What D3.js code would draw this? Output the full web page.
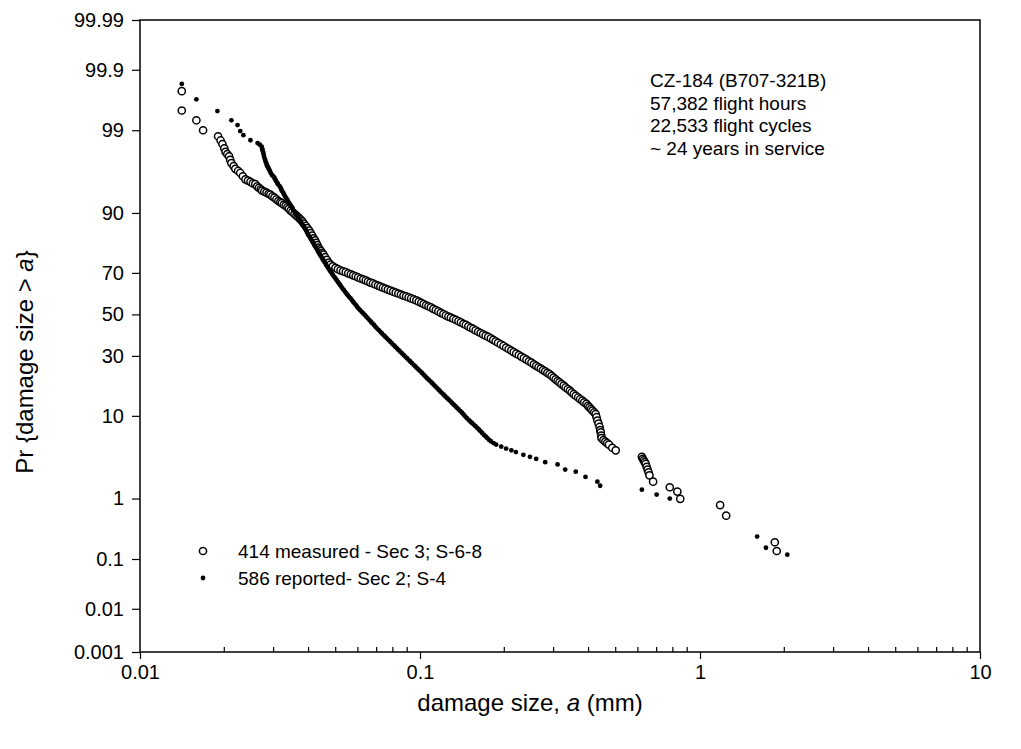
<!DOCTYPE html>
<html>
<head>
<meta charset="utf-8">
<script src="https://cdn.jsdelivr.net/npm/d3@7"></script>
<style>
  body { margin: 0; background: #fff; }
  svg { font-family: "Liberation Sans", Arial, sans-serif; }
</style>
</head>
<body>
<div id="chart"></div>
<script>
const width = 1021;
const height = 749;

// tick values
const xTicks = [0.01, 0.1, 1, 10];
const yTicks = [0.001, 0.01, 0.1, 1, 10, 30, 50, 70, 90, 99, 99.9, 99.99];

// 414 measured - Sec 3 (open circles): [size mm, exceedance %]
const measuredPoints = [
  [0.0141, 99.76], [0.0141, 99.5], [0.0159, 99.29], [0.0168, 99.0], [0.0190, 98.78], [0.0194, 98.6],
  [0.0197, 98.43], [0.0200, 98.2], [0.0202, 98.0], [0.0205, 97.85], [0.0208, 97.7], [0.0210, 97.45],
  [0.0212, 97.2], [0.0216, 96.95], [0.0219, 96.7], [0.0224, 96.5], [0.0228, 96.3], [0.0233, 95.95],
  [0.0238, 95.6], [0.0243, 95.45], [0.0248, 95.3], [0.0253, 95.1], [0.0258, 95.0], [0.0262, 94.7],
  [0.0266, 94.5], [0.0270, 94.3], [0.0273, 94.1], [0.0278, 93.95], [0.0283, 93.8], [0.0288, 93.6],
  [0.0292, 93.5], [0.0297, 93.2], [0.0302, 93.0], [0.0307, 92.7], [0.0312, 92.4], [0.0317, 92.2],
  [0.0321, 92.0], [0.0326, 91.7], [0.0331, 91.5], [0.0336, 91.2], [0.0340, 90.9], [0.0345, 90.5],
  [0.0350, 90.2], [0.0356, 89.8], [0.0362, 89.4], [0.0368, 89.0], [0.0374, 88.5], [0.0380, 88.0],
  [0.0385, 87.4], [0.0391, 86.8], [0.0396, 86.2], [0.0402, 85.5], [0.0407, 84.8], [0.0412, 84.0],
  [0.0417, 83.2], [0.0422, 82.5], [0.0426, 81.7], [0.0430, 80.9], [0.0434, 80.1], [0.0439, 79.4],
  [0.0443, 78.8], [0.0448, 78.1], [0.0452, 77.5], [0.0458, 76.5], [0.0465, 75.5], [0.0472, 74.4],
  [0.0479, 73.5], [0.0488, 72.8], [0.0499, 72.2], [0.0509, 71.6], [0.0520, 71.1], [0.0531, 70.7],
  [0.0543, 70.3], [0.0554, 69.8], [0.0566, 69.4], [0.0577, 68.9], [0.0589, 68.5], [0.0601, 68.0],
  [0.0614, 67.5], [0.0627, 67.1], [0.0640, 66.6], [0.0652, 66.1], [0.0665, 65.6], [0.0679, 65.2],
  [0.0693, 64.7], [0.0708, 64.2], [0.0722, 63.7], [0.0737, 63.2], [0.0752, 62.8], [0.0768, 62.3],
  [0.0785, 61.8], [0.0802, 61.3], [0.0819, 60.8], [0.0837, 60.4], [0.0855, 59.9], [0.0873, 59.4],
  [0.0892, 59.0], [0.0911, 58.5], [0.0930, 58.0], [0.0950, 57.5], [0.0970, 57.0], [0.0990, 56.4],
  [0.1010, 55.8], [0.1030, 55.2], [0.1051, 54.6], [0.1072, 54.1], [0.1093, 53.5], [0.1116, 52.8],
  [0.1139, 52.2], [0.1163, 51.5], [0.1187, 50.8], [0.1212, 50.2], [0.1237, 49.5], [0.1263, 48.9],
  [0.1289, 48.4], [0.1316, 47.8], [0.1344, 47.2], [0.1372, 46.6], [0.1400, 46.0], [0.1429, 45.3],
  [0.1458, 44.7], [0.1488, 44.0], [0.1518, 43.3], [0.1549, 42.7], [0.1580, 42.0], [0.1613, 41.3],
  [0.1646, 40.7], [0.1680, 40.0], [0.1716, 39.4], [0.1752, 38.8], [0.1790, 38.1], [0.1826, 37.4],
  [0.1863, 36.7], [0.1900, 36.0], [0.1943, 35.3], [0.1986, 34.5], [0.2030, 33.8], [0.2073, 33.1],
  [0.2116, 32.4], [0.2160, 31.7], [0.2206, 31.0], [0.2253, 30.4], [0.2300, 29.7], [0.2350, 29.0],
  [0.2400, 28.4], [0.2450, 27.7], [0.2500, 27.1], [0.2550, 26.4], [0.2600, 25.8], [0.2650, 25.2],
  [0.2700, 24.7], [0.2750, 24.1], [0.2800, 23.6], [0.2850, 23.0], [0.2900, 22.5], [0.2950, 21.9],
  [0.3000, 21.2], [0.3050, 20.6], [0.3100, 20.0], [0.3150, 19.5], [0.3200, 18.9], [0.3260, 18.4],
  [0.3310, 17.8], [0.3370, 17.3], [0.3430, 16.8], [0.3480, 16.2], [0.3540, 15.7], [0.3600, 15.2],
  [0.3670, 14.7], [0.3730, 14.2], [0.3800, 13.8], [0.3860, 13.3], [0.3930, 12.9], [0.3980, 12.4],
  [0.4030, 12.0], [0.4080, 11.6], [0.4130, 11.2], [0.4190, 10.8], [0.4240, 10.4], [0.4270, 9.7],
  [0.4300, 9.0], [0.4340, 8.4], [0.4380, 7.75], [0.4400, 7.2], [0.4420, 6.8], [0.4440, 6.3],
  [0.4450, 5.9], [0.4520, 5.6], [0.4590, 5.4], [0.4660, 5.2], [0.4730, 5.0], [0.4860, 4.6],
  [0.5000, 4.3], [0.6200, 3.6], [0.6250, 3.4], [0.6300, 3.25], [0.6350, 3.1], [0.6400, 2.95],
  [0.6450, 2.7], [0.6500, 2.5], [0.6550, 2.3], [0.6600, 2.1], [0.6800, 1.73], [0.7800, 1.45],
  [0.8300, 1.26], [0.8500, 0.99], [1.18, 0.8], [1.24, 0.55], [1.85, 0.2], [1.88, 0.14]
];

// 586 reported - Sec 2 (small dots): [size mm, exceedance %]
const reportedPoints = [
  [0.0141, 99.82], [0.0159, 99.67], [0.0189, 99.49], [0.0212, 99.29], [0.0223, 99.16], [0.0228, 98.97],
  [0.0234, 98.82], [0.0248, 98.61], [0.0263, 98.48], [0.0268, 98.4], [0.0272, 98.3], [0.0273, 98.2],
  [0.0274, 98.1], [0.0275, 98.0], [0.0276, 97.9], [0.0277, 97.75], [0.0278, 97.6], [0.0280, 97.45],
  [0.0281, 97.3], [0.0283, 97.15], [0.0284, 97.0], [0.0286, 96.9], [0.0287, 96.8], [0.0289, 96.65],
  [0.0291, 96.5], [0.0293, 96.3], [0.0296, 96.1], [0.0299, 95.95], [0.0302, 95.8], [0.0304, 95.6],
  [0.0306, 95.4], [0.0309, 95.2], [0.0311, 95.0], [0.0315, 94.75], [0.0318, 94.5], [0.0320, 94.25],
  [0.0322, 94.0], [0.0325, 93.75], [0.0327, 93.5], [0.0330, 93.2], [0.0333, 92.9], [0.0336, 92.6],
  [0.0338, 92.3], [0.0341, 92.0], [0.0344, 91.7], [0.0347, 91.4], [0.0350, 91.1], [0.0352, 90.75],
  [0.0355, 90.4], [0.0358, 90.05], [0.0361, 89.7], [0.0365, 89.3], [0.0368, 88.9], [0.0371, 88.5],
  [0.0374, 88.1], [0.0377, 87.65], [0.0380, 87.2], [0.0384, 86.75], [0.0387, 86.3], [0.0391, 85.75],
  [0.0394, 85.2], [0.0397, 84.65], [0.0400, 84.1], [0.0404, 83.55], [0.0407, 83.0], [0.0411, 82.45],
  [0.0414, 81.9], [0.0417, 81.35], [0.0420, 80.8], [0.0424, 80.25], [0.0427, 79.7], [0.0431, 79.05],
  [0.0434, 78.4], [0.0438, 77.8], [0.0441, 77.2], [0.0445, 76.55], [0.0448, 75.9], [0.0452, 75.25],
  [0.0456, 74.6], [0.0460, 73.95], [0.0463, 73.3], [0.0467, 72.6], [0.0471, 71.9], [0.0476, 71.15],
  [0.0480, 70.4], [0.0485, 69.7], [0.0489, 69.0], [0.0494, 68.25], [0.0499, 67.5], [0.0504, 66.7],
  [0.0509, 65.9], [0.0514, 65.15], [0.0519, 64.4], [0.0524, 63.6], [0.0529, 62.8], [0.0535, 62.0],
  [0.0540, 61.2], [0.0546, 60.4], [0.0552, 59.6], [0.0558, 58.8], [0.0565, 58.0], [0.0571, 57.2],
  [0.0577, 56.4], [0.0583, 55.55], [0.0590, 54.7], [0.0596, 53.85], [0.0603, 53.0], [0.0611, 52.15],
  [0.0619, 51.3], [0.0627, 50.5], [0.0635, 49.7], [0.0643, 48.85], [0.0651, 48.0], [0.0660, 47.15],
  [0.0668, 46.3], [0.0676, 45.5], [0.0685, 44.7], [0.0693, 43.85], [0.0702, 43.0], [0.0712, 42.15],
  [0.0722, 41.3], [0.0731, 40.5], [0.0741, 39.7], [0.0751, 38.9], [0.0761, 38.1], [0.0772, 37.3],
  [0.0783, 36.5], [0.0794, 35.7], [0.0805, 34.9], [0.0816, 34.15], [0.0827, 33.4], [0.0838, 32.65],
  [0.0850, 31.9], [0.0862, 31.15], [0.0874, 30.4], [0.0886, 29.7], [0.0898, 29.0], [0.0910, 28.3],
  [0.0923, 27.6], [0.0936, 26.9], [0.0949, 26.2], [0.0962, 25.55], [0.0975, 24.9], [0.0989, 24.25],
  [0.1003, 23.6], [0.1017, 22.95], [0.1031, 22.3], [0.1045, 21.65], [0.1059, 21.0], [0.1074, 20.45],
  [0.1089, 19.9], [0.1104, 19.3], [0.1119, 18.7], [0.1135, 18.15], [0.1150, 17.6], [0.1166, 17.05],
  [0.1182, 16.5], [0.1198, 16.0], [0.1215, 15.5], [0.1232, 15.0], [0.1250, 14.5], [0.1267, 14.05],
  [0.1285, 13.6], [0.1302, 13.15], [0.1320, 12.7], [0.1338, 12.3], [0.1355, 11.9], [0.1374, 11.5],
  [0.1393, 11.1], [0.1412, 10.7], [0.1431, 10.3], [0.1450, 9.9], [0.1470, 9.5], [0.1491, 9.15],
  [0.1512, 8.8], [0.1533, 8.5], [0.1555, 8.2], [0.1577, 7.9], [0.1600, 7.6], [0.1622, 7.3],
  [0.1645, 7.0], [0.1668, 6.7], [0.1692, 6.4], [0.1716, 6.15], [0.1740, 5.9], [0.1765, 5.65],
  [0.1790, 5.45], [0.1830, 5.2], [0.1870, 5.0], [0.1950, 4.75], [0.2030, 4.5], [0.2120, 4.3],
  [0.2200, 4.1], [0.2340, 3.8], [0.2470, 3.6], [0.2600, 3.4], [0.2800, 3.1], [0.3100, 2.9],
  [0.3300, 2.5], [0.3600, 2.35], [0.3900, 2.0], [0.4300, 1.73], [0.4400, 1.52], [0.6200, 1.34],
  [0.7000, 1.14], [0.7800, 1.0], [1.60, 0.25], [1.72, 0.16], [2.05, 0.12]
];

const legendLabels = ["414 measured - Sec 3; S-6-8", "586 reported- Sec 2; S-4"];
const noteLines = ["CZ-184 (B707-321B)", "57,382 flight hours", "22,533 flight cycles", "~ 24 years in service"];

const plot = { left: 140, right: 980, top: 20, bottom: 652 };

// inverse normal CDF (Acklam) for the probability axis
function probit(p)
{
    const a = [-3.969683028665376e+01, 2.209460984245205e+02, -2.759285104469687e+02, 1.383577518672690e+02, -3.066479806614716e+01, 2.506628277459239e+00];
    const b = [-5.447609879822406e+01, 1.615858368580409e+02, -1.556989798598866e+02, 6.680131188771972e+01, -1.328068155288572e+01];
    const c = [-7.784894002430293e-03, -3.223964580411365e-01, -2.400758277161838e+00, -2.549732539343734e+00, 4.374664141464968e+00, 2.938163982698783e+00];
    const d = [7.784695709041462e-03, 3.224671290700398e-01, 2.445134137142996e+00, 3.754408661907416e+00];
    const pl = 0.02425;
    let q, r;
    if (p < pl) {
        q = Math.sqrt(-2 * Math.log(p));
        return (((((c[0]*q+c[1])*q+c[2])*q+c[3])*q+c[4])*q+c[5]) / ((((d[0]*q+d[1])*q+d[2])*q+d[3])*q+1);
    }
    if (p <= 1 - pl) {
        q = p - 0.5; r = q * q;
        return (((((a[0]*r+a[1])*r+a[2])*r+a[3])*r+a[4])*r+a[5])*q / (((((b[0]*r+b[1])*r+b[2])*r+b[3])*r+b[4])*r+1);
    }
    q = Math.sqrt(-2 * Math.log(1 - p));
    return -(((((c[0]*q+c[1])*q+c[2])*q+c[3])*q+c[4])*q+c[5]) / ((((d[0]*q+d[1])*q+d[2])*q+d[3])*q+1);
}

// probability scale built on a linear scale of the normal quantile
function probScale(domain, range)
{
    const lin = d3.scaleLinear()
        .domain(domain.map(p => probit(p / 100)))
        .range(range);
    const s = p => lin(probit(p / 100));
    s.domain = () => domain.slice();
    s.range = () => lin.range();
    s.copy = () => probScale(domain, range);
    return s;
}

const x = d3.scaleLog().domain([0.01, 10]).range([plot.left, plot.right]);
const y = probScale([0.001, 99.99], [plot.bottom, plot.top]);

const svg = d3.select("#chart").append("svg")
    .attr("width", width)
    .attr("height", height)
    .style("background", "#fff");

// frame
svg.append("rect")
    .attr("x", plot.left)
    .attr("y", plot.top)
    .attr("width", plot.right - plot.left)
    .attr("height", plot.bottom - plot.top)
    .attr("fill", "none")
    .attr("stroke", "#000")
    .attr("stroke-width", 1.5);

// minor x ticks (inward)
const minor = x.ticks().filter(v => xTicks.indexOf(v) < 0);
svg.append("g")
    .selectAll("line")
    .data(minor)
    .join("line")
    .attr("x1", d => x(d)).attr("x2", d => x(d))
    .attr("y1", plot.bottom).attr("y2", plot.bottom - 5)
    .attr("stroke", "#000")
    .attr("stroke-width", 1.2);

const xAxis = svg.append("g")
    .attr("transform", `translate(0,${plot.bottom})`)
    .call(d3.axisBottom(x).tickValues(xTicks).tickFormat(d => String(d)).tickSize(7).tickSizeOuter(0).tickPadding(6));
xAxis.select(".domain").remove();
xAxis.selectAll("line").attr("stroke-width", 1.2);
xAxis.selectAll("text").style("font-size", "20px").attr("fill", "#000");

const yAxis = svg.append("g")
    .attr("transform", `translate(${plot.left},0)`)
    .call(d3.axisLeft(y).tickValues(yTicks).tickFormat(d => String(d)).tickSize(8).tickSizeOuter(0).tickPadding(8));
yAxis.select(".domain").remove();
yAxis.selectAll("line").attr("stroke-width", 1.2);
yAxis.selectAll("text").style("font-size", "20px").attr("fill", "#000");

// axis titles
const xTitle = svg.append("text")
    .attr("x", (plot.left + plot.right) / 2 - 30)
    .attr("y", 711)
    .attr("text-anchor", "middle")
    .style("font-size", "24px");
xTitle.append("tspan").text("damage size, ");
xTitle.append("tspan").style("font-style", "italic").text("a");
xTitle.append("tspan").text(" (mm)");

const yTitle = svg.append("text")
    .attr("transform", `translate(33,${(plot.top + plot.bottom) / 2 + 26}) rotate(-90)`)
    .attr("text-anchor", "middle")
    .style("font-size", "24px");
yTitle.append("tspan").text("Pr {damage size > ");
yTitle.append("tspan").style("font-style", "italic").text("a");
yTitle.append("tspan").text("}");

// series
const measured = measuredPoints.map(d => ({ a: d[0], p: d[1] }));
const reported = reportedPoints.map(d => ({ a: d[0], p: d[1] }));

svg.append("g")
    .selectAll("circle")
    .data(measured)
    .join("circle")
    .attr("cx", d => x(d.a))
    .attr("cy", d => y(d.p))
    .attr("r", 3.6)
    .attr("fill", "#fff")
    .attr("stroke", "#000")
    .attr("stroke-width", 1.5);

svg.append("g")
    .selectAll("circle")
    .data(reported)
    .join("circle")
    .attr("cx", d => x(d.a))
    .attr("cy", d => y(d.p))
    .attr("r", 2.4)
    .attr("fill", "#000");

// annotation
svg.append("g")
    .selectAll("text")
    .data(noteLines)
    .join("text")
    .attr("x", 650)
    .attr("y", (d, i) => 87 + i * 22.5)
    .style("font-size", "19px")
    .text(d => d);

// legend
const legend = svg.append("g")
    .selectAll("g")
    .data(legendLabels)
    .join("g")
    .attr("transform", (d, i) => `translate(203,${551 + i * 27})`);
legend.filter((d, i) => i === 0).append("circle")
    .attr("r", 3.6).attr("fill", "#fff").attr("stroke", "#000").attr("stroke-width", 1.5);
legend.filter((d, i) => i === 1).append("circle")
    .attr("r", 2.4).attr("fill", "#000");
legend.append("text")
    .attr("x", 35)
    .attr("dy", "0.35em")
    .style("font-size", "19px")
    .text(d => d);
</script>
</body>
</html>
